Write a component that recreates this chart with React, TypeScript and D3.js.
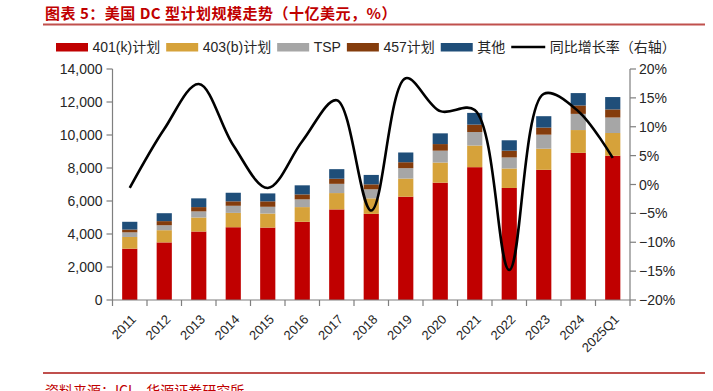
import React from "react";
import * as d3 from "d3";

const categories = ["2011","2012","2013","2014","2015","2016","2017","2018","2019","2020","2021","2022","2023","2024","2025Q1"];
const s401k = [3110,3490,4150,4410,4390,4740,5490,5220,6260,7110,8050,6790,7890,8920,8740];
const s403b = [710,740,850,870,850,890,990,940,1100,1220,1310,1180,1280,1380,1380];
const sTSP = [280,300,370,430,410,470,560,550,630,720,820,670,850,980,940];
const s457 = [170,250,260,270,330,300,310,300,360,400,450,410,430,510,490];
const sOther = [470,480,530,520,480,550,580,570,590,650,710,630,690,750,750];
const growth = [-0.6,9.6,17.4,6.8,-0.6,7.5,14.6,-4.5,18.4,12.7,12.9,-14.8,15.7,12.7,4.6];

const leftTicks = [0,2000,4000,6000,8000,10000,12000,14000];
const rightTicks = [-20,-15,-10,-5,0,5,10,15,20];

const seriesNames = ["401(k)计划","403(b)计划","TSP","457计划","其他"];
const seriesColors = ["#C00000","#D6A23A","#A6A6A6","#843C0C","#1F4E79"];
const lineName = "同比增长率（右轴）";
const titleText = "图表 5：美国 DC 型计划规模走势（十亿美元，%）";
const sourceText = "资料来源：ICI，华源证券研究所";

const W = 713, H = 391;
const M = { left: 112.5, right: 630, top: 69, bottom: 300 };
const FONT = "'Liberation Sans', Arial, 'Noto Sans CJK SC', sans-serif";
const AXIS = "#7f7f7f";
const TEXT = "#262626";
const RED = "#C00000";

let measureCtx: CanvasRenderingContext2D | null = null;
function textWidth(t: string, size: number) {
  if (typeof document === "undefined") return t.length * size * 0.6;
  if (!measureCtx) measureCtx = document.createElement("canvas").getContext("2d");
  if (!measureCtx) return t.length * size * 0.6;
  measureCtx.font = `${size}px ${FONT}`;
  return measureCtx.measureText(t).width;
}

export default function App() {
  const x = d3.scaleBand<string>().domain(categories).range([M.left, M.right]).paddingInner(0.56).paddingOuter(0.28);
  const y = d3.scaleLinear().domain([0, 14000]).range([M.bottom, M.top]);
  const yr = d3.scaleLinear().domain([-20, 20]).range([M.bottom, M.top]);

  const table = categories.map((c, i) => ({ cat: c, a: s401k[i], b: s403b[i], c2: sTSP[i], d: s457[i], e: sOther[i] }));
  const keys = ["a","b","c2","d","e"];
  const stack = d3.stack<any>().keys(keys)(table);

  const line = d3.line<number>()
    .x((_, i) => (x(categories[i]) as number) + x.bandwidth() / 2)
    .y((v) => yr(v))
    .curve(d3.curveCatmullRom.alpha(0.5));

  const step = x.step();
  const boundaries = d3.range(categories.length + 1).map((i) => M.left + i * step);

  const legendY = 47;
  const fs = 14;
  const items: { kind: string; color: string; label: string; x: number }[] = [];
  let cx = 56;
  seriesNames.forEach((n, i) => {
    items.push({ kind: "rect", color: seriesColors[i], label: n, x: cx });
    cx += 32 + 4.5 + textWidth(n, fs) + 6;
  });
  items.push({ kind: "line", color: "#000", label: lineName, x: cx });

  return (
    <svg width={W} height={H} style={{ position: "absolute", left: 0, top: 0, background: "#fff" }} fontFamily={FONT}>
      <text x={45} y={18.5} fontSize={15} fontWeight={700} fill={RED} letterSpacing={0.5} fontFamily="'Noto Sans CJK SC', sans-serif">{titleText}</text>
      <line x1={43} x2={705} y1={24.5} y2={24.5} stroke="#C0504D" strokeWidth={2} />

      {items.map((it, i) => (
        <g key={i}>
          {it.kind === "rect" ? (
            <rect x={it.x} y={legendY - 4} width={32} height={8.5} fill={it.color} />
          ) : (
            <line x1={it.x} x2={it.x + 34} y1={legendY} y2={legendY} stroke="#000" strokeWidth={2.5} />
          )}
          <text x={it.x + (it.kind === "rect" ? 36.5 : 38.5)} y={legendY} dy="0.35em" fontSize={fs} fill={TEXT}>{it.label}</text>
        </g>
      ))}

      {stack.map((layer, li) => (
        <g key={li} fill={seriesColors[li]}>
          {layer.map((d: any, i: number) => (
            <rect key={i} x={x(categories[i])} width={x.bandwidth()} y={y(d[1])} height={y(d[0]) - y(d[1])} />
          ))}
        </g>
      ))}

      <path d={line(growth) || ""} fill="none" stroke="#000" strokeWidth={2.6} strokeLinejoin="round" />

      <line x1={M.left} x2={M.left} y1={M.top} y2={M.bottom} stroke={AXIS} strokeWidth={1.2} />
      {leftTicks.map((t) => (
        <g key={t}>
          <line x1={M.left - 6} x2={M.left} y1={y(t)} y2={y(t)} stroke={AXIS} strokeWidth={1.2} />
          <text x={M.left - 10} y={y(t)} dy="0.36em" textAnchor="end" fontSize={14} fill={TEXT}>{d3.format(",")(t)}</text>
        </g>
      ))}

      <line x1={M.right} x2={M.right} y1={M.top} y2={M.bottom} stroke={AXIS} strokeWidth={1.2} />
      {rightTicks.map((t) => (
        <g key={t}>
          <line x1={M.right} x2={M.right + 6} y1={yr(t)} y2={yr(t)} stroke={AXIS} strokeWidth={1.2} />
          <text x={M.right + 9} y={yr(t)} dy="0.36em" fontSize={14} fill={TEXT}>{(t < 0 ? "−" + Math.abs(t) : String(t)) + "%"}</text>
        </g>
      ))}

      <line x1={M.left} x2={M.right} y1={M.bottom} y2={M.bottom} stroke={AXIS} strokeWidth={1.2} />
      {boundaries.map((b, i) => (
        <line key={i} x1={b} x2={b} y1={M.bottom} y2={M.bottom + 6} stroke={AXIS} strokeWidth={1.2} />
      ))}
      {categories.map((c) => {
        const px = (x(c) as number) + x.bandwidth() / 2;
        return (
          <text key={c} transform={`translate(${px + 4},${M.bottom + 17}) rotate(-45)`} textAnchor="end" dy="0.35em" fontSize={13} fill={TEXT}>{c}</text>
        );
      })}

      <line x1={43} x2={705} y1={373} y2={373} stroke="#C0504D" strokeWidth={2} />
      <text x={45} y={396} fontSize={14} fill={RED} fontFamily="'Noto Sans CJK SC', sans-serif">{sourceText}</text>
    </svg>
  );
}
